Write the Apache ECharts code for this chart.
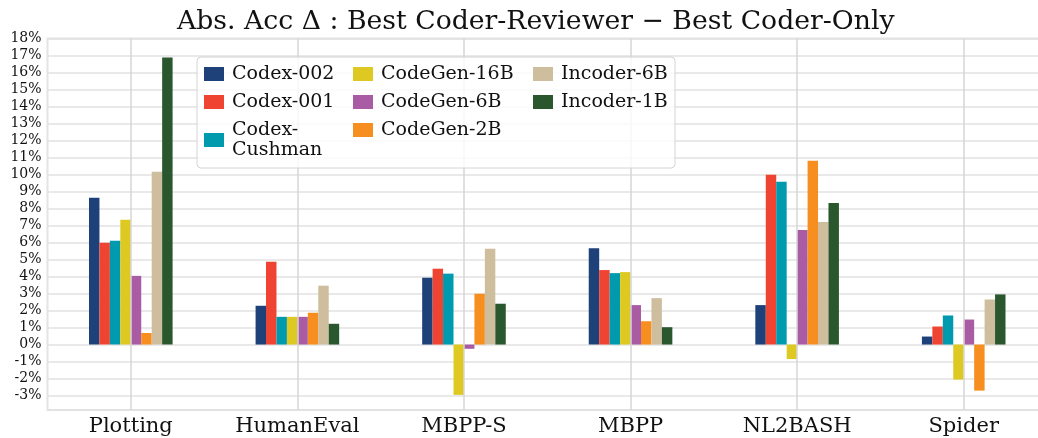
<!DOCTYPE html>
<html>
<head>
<meta charset="utf-8">
<script src="https://cdn.jsdelivr.net/npm/echarts@6/dist/echarts.min.js"></script>
<style>
html, body { margin: 0; padding: 0; background: #fff; }
#chart { width: 1038px; height: 438px; }
</style>
</head>
<body>
<div id="chart"></div>
<script>
const categories = ['Plotting', 'HumanEval', 'MBPP-S', 'MBPP', 'NL2BASH', 'Spider']

const codex002 = [8.63, 2.28, 3.93, 5.67, 2.32, 0.47]
const codex001 = [5.98, 4.87, 4.46, 4.38, 9.98, 1.06]
const codexCushman = [6.10, 1.63, 4.17, 4.20, 9.57, 1.71]
const codegen16b = [7.34, 1.63, -2.96, 4.26, -0.85, -2.06]
const codegen6b = [4.04, 1.63, -0.25, 2.32, 6.74, 1.47]
const codegen2b = [0.68, 1.87, 2.99, 1.37, 10.81, -2.71]
const incoder6b = [10.17, 3.46, 5.64, 2.73, 7.20, 2.65]
const incoder1b = [16.88, 1.22, 2.40, 1.02, 8.33, 2.95]

const FONT = 'DejaVu Serif'
const TEXT = '#111'

const seriesDefs = [
  { name: 'Codex-002', data: codex002, color: '#1f4179' },
  { name: 'Codex-001', data: codex001, color: '#ef4431' },
  { name: 'Codex-Cushman', data: codexCushman, color: '#009aaf' },
  { name: 'CodeGen-16B', data: codegen16b, color: '#ddc921' },
  { name: 'CodeGen-6B', data: codegen6b, color: '#a95ba3' },
  { name: 'CodeGen-2B', data: codegen2b, color: '#f68f1f' },
  { name: 'Incoder-6B', data: incoder6b, color: '#cebe9e' },
  { name: 'Incoder-1B', data: incoder1b, color: '#2a572e' }
]

const chart = echarts.init(document.getElementById('chart'))

const legendBase = {
  orient: 'vertical',
  top: 64,
  padding: 0,
  itemGap: 8,
  itemWidth: 20,
  itemHeight: 14,
  icon: 'rect',
  selectedMode: false,
  formatter: name => name === 'Codex-Cushman' ? 'Codex-\nCushman' : name,
  textStyle: {
    fontFamily: FONT,
    fontSize: 19,
    lineHeight: 20,
    color: TEXT,
    padding: [0, 0, 0, 3]
  }
}

const option = {
  animation: false,
  title: {
    text: 'Abs. Acc Δ : Best Coder-Reviewer − Best Coder-Only',
    left: 172,
    top: 4,
    textStyle: {
      fontFamily: FONT,
      fontSize: 26.7,
      fontWeight: 'normal',
      color: TEXT
    }
  },
  graphic: [{
    type: 'rect',
    z: 50,
    shape: { x: 197, y: 57, width: 478, height: 111, r: 4 },
    style: { fill: 'rgba(255,255,255,0.8)', stroke: '#d4d4d4', lineWidth: 1 }
  }],
  legend: [
    Object.assign({}, legendBase, { left: 204, z: 60, data: ['Codex-002', 'Codex-001', 'Codex-Cushman'] }),
    Object.assign({}, legendBase, { left: 353, z: 60, data: ['CodeGen-16B', 'CodeGen-6B', 'CodeGen-2B'] }),
    Object.assign({}, legendBase, { left: 533, z: 60, data: ['Incoder-6B', 'Incoder-1B'] })
  ],
  grid: {
    left: 47.5,
    right: -9,
    top: 38.5,
    bottom: 28,
    outerBoundsMode: 'none',
    containLabel: false,
    show: true,
    borderColor: '#e4e4e4',
    borderWidth: 2
  },
  xAxis: {
    type: 'category',
    data: categories,
    axisLine: { show: false },
    axisTick: { show: false },
    splitLine: { show: false },
    axisLabel: {
      fontFamily: FONT,
      fontSize: 21,
      color: TEXT,
      margin: 6
    }
  },
  yAxis: {
    type: 'value',
    min: -3.85,
    max: 18,
    splitNumber: 22,
    minInterval: 1,
    maxInterval: 1,
    axisLine: { show: false },
    axisTick: { show: false },
    splitLine: {
      lineStyle: { color: '#e2e2e2', width: 1.5 }
    },
    axisLabel: {
      fontFamily: FONT,
      fontSize: 14,
      color: TEXT,
      margin: 6,
      showMinLabel: true,
      formatter: v => Math.abs(v - Math.round(v)) < 1e-6 ? Math.round(v) + '%' : ''
    }
  },
  series: [{
    name: 'vgrid',
    type: 'line',
    z: 1,
    data: categories.map(() => null),
    markLine: {
      silent: true,
      symbol: ['none', 'none'],
      label: { show: false },
      lineStyle: { color: '#d6d6d6', width: 1.5, type: 'solid' },
      data: categories.map(c => ({ xAxis: c }))
    }
  }].concat(seriesDefs.map(s => ({
    name: s.name,
    type: 'bar',
    z: 2,
    data: s.data,
    barWidth: 10.45,
    barGap: '0%',
    itemStyle: { color: s.color }
  })))
}

chart.setOption(option)
</script>
</body>
</html>
